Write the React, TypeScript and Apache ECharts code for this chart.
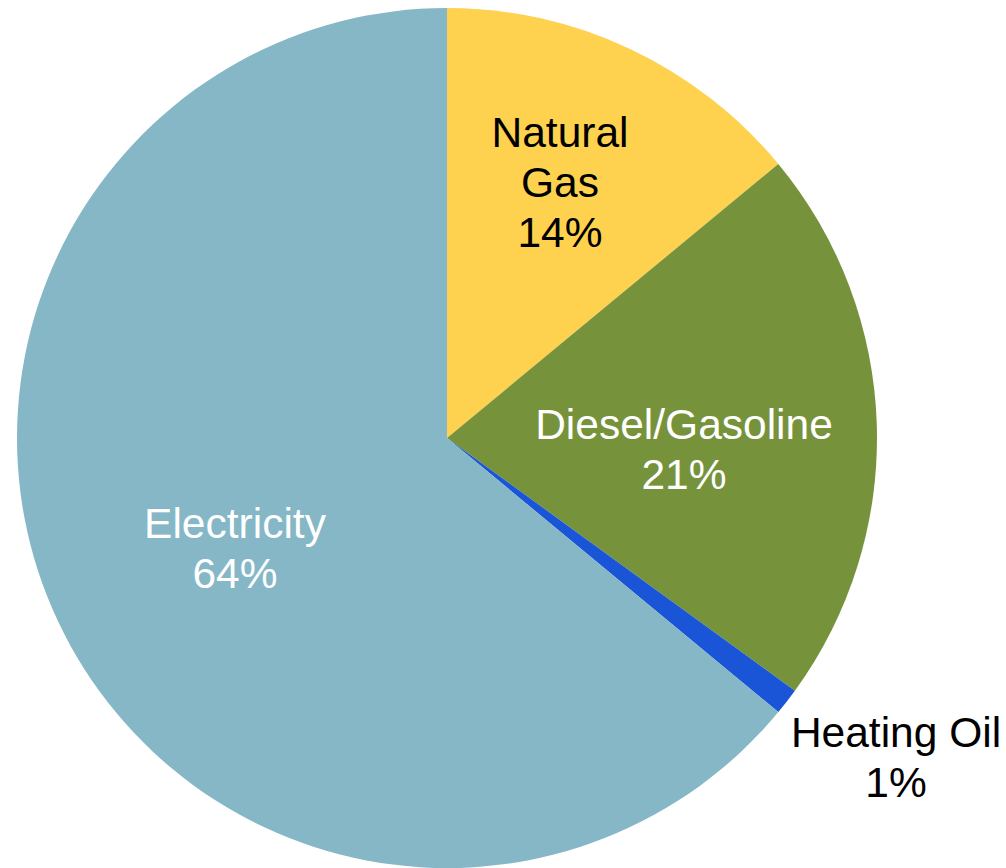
import React, { useEffect, useRef } from "react";
import * as echarts from "echarts";

const categories = ["Natural Gas", "Diesel/Gasoline", "Heating Oil", "Electricity"];
const labelNames = ["Natural\nGas", "Diesel/Gasoline", "Heating Oil", "Electricity"];
const values = [14, 21, 1, 64];
const colors = ["#FED24E", "#76933C", "#1955D6", "#85B7C6"];
const labelColors = ["#000000", "#ffffff", "#000000", "#ffffff"];
// label centres relative to the pie centre (pixels)
const labelOffsets = [
  [113, -256],
  [237, 11],
  [449, 319],
  [-212, 110],
];

export default function App() {
  const ref = useRef<HTMLDivElement>(null);
  useEffect(() => {
    if (!ref.current) return;
    const chart = echarts.init(ref.current, undefined, { renderer: "svg" });
    const cx = 447;
    const cy = 438;
    chart.setOption({
      animation: false,
      backgroundColor: "#ffffff",
      series: [
        {
          type: "pie",
          center: [cx, cy],
          radius: 430,
          startAngle: 90,
          clockwise: true,
          percentPrecision: 0,
          avoidLabelOverlap: false,
          data: categories.map((c, i) => ({
            name: c,
            value: values[i],
            itemStyle: { color: colors[i] },
            label: {
              color: labelColors[i],
              position: i === 2 ? "outside" : "inside",
            },
            labelLine: { show: false },
          })),
          label: {
            show: true,
            fontFamily: "Arial, 'Liberation Sans', sans-serif",
            fontSize: 42.5,
            lineHeight: 50,
            align: "center",
            overflow: "none",
            alignTo: "none",
            bleedMargin: 0,
            formatter: (p: any) => `${labelNames[p.dataIndex]}\n${p.percent}%`,
          },
          labelLine: { show: false },
          labelLayout: (p: any) => ({
            x: cx + labelOffsets[p.dataIndex][0],
            y: cy + labelOffsets[p.dataIndex][1],
            align: "center",
            verticalAlign: "middle",
          }),
          emphasis: { disabled: true },
        },
      ],
    });
    return () => chart.dispose();
  }, []);
  return (
    <div
      ref={ref}
      style={{ position: "fixed", left: 0, top: 0, width: 1006, height: 868 }}
    />
  );
}
